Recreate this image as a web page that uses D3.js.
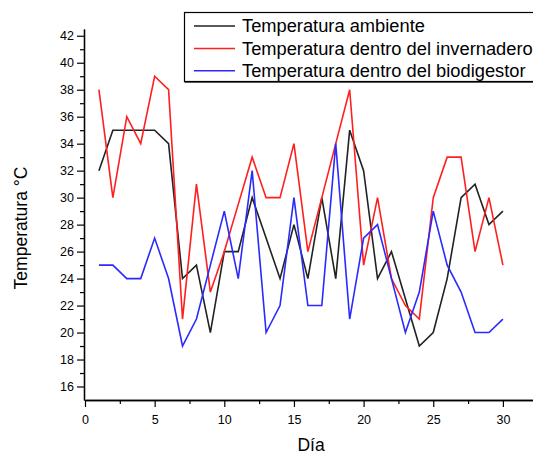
<!DOCTYPE html>
<html>
<head>
<meta charset="utf-8">
<script src="https://cdn.jsdelivr.net/npm/d3@7"></script>
<style>
  html, body { margin: 0; padding: 0; background: #fff; }
  svg { display: block; font-family: "Liberation Sans", Arial, sans-serif; }
</style>
</head>
<body>
<svg id="chart" width="533" height="454"></svg>
<script>
const dias = d3.range(1, 31);
const ambiente = [32,35,35,35,35,34,24,25,20,26,26,30,27,24,28,24,30,24,35,32,24,26,22.5,19,20,24,30,31,28,29];
const invernadero = [38,30,36,34,39,38,21,31,23,26,29.5,33,30,30,34,26,30,34,38,25,30,24,22,21,30,33,33,26,30,25];
const biodigestor = [25,25,24,24,27,24,19,21,25,29,24,32,20,22,30,22,22,34,21,27,28,24,20,23,29,25,23,20,20,21];
const seriesNames = ["Temperatura ambiente", "Temperatura dentro del invernadero", "Temperatura dentro del biodigestor"];
const seriesColors = ["#222222", "#ff1f1f", "#2a2aff"];
const yTicks = d3.range(16, 43, 2);
const xTicks = [0, 5, 10, 15, 20, 25, 30];

const svg = d3.select("#chart");
const x = d3.scaleLinear().domain([0, 32.5]).range([85, 85 + 32.5 * 13.93]);
const y = d3.scaleLinear().domain([15, 42.5]).range([400, 29]);

// axes
const yAxis = d3.axisLeft(y).tickValues(yTicks).tickSize(7).tickSizeOuter(0).tickPadding(3);
const yMinor = d3.axisLeft(y).tickValues(d3.range(17, 43, 2)).tickSize(4).tickFormat("").tickSizeOuter(0);
const xAxis = d3.axisBottom(x).tickValues(xTicks).tickSize(7).tickSizeOuter(0).tickPadding(8);
const xMinor = d3.axisBottom(x).tickValues(d3.range(2.5, 33, 5)).tickSize(4).tickFormat("").tickSizeOuter(0);

function styleAxis(g) {
  g.selectAll("path.domain").attr("stroke", "#000").attr("stroke-width", 1.3);
  g.selectAll(".tick line").attr("stroke", "#000").attr("stroke-width", 1.2);
  g.selectAll("text").attr("fill", "#000").style("font-size", "12.5px").style("font-family", "Liberation Sans, Arial, sans-serif");
}
svg.append("g").attr("transform", "translate(84,0)").call(yMinor).call(styleAxis);
svg.append("g").attr("transform", "translate(84,0)").call(yAxis).call(styleAxis);
svg.append("g").attr("transform", "translate(0,400)").call(xMinor).call(styleAxis);
svg.append("g").attr("transform", "translate(0,400)").call(xAxis).call(styleAxis);

// lines
const allSeries = [ambiente, invernadero, biodigestor];
const line = d3.line().x((d, i) => x(dias[i])).y(d => y(d));
allSeries.forEach((s, k) => {
  svg.append("path").datum(s)
    .attr("fill", "none")
    .attr("stroke", seriesColors[k])
    .attr("stroke-width", 1.6)
    .attr("stroke-linejoin", "miter")
    .attr("d", line);
});

// axis titles
svg.append("text")
  .attr("transform", "translate(27,228) rotate(-90)")
  .attr("text-anchor", "middle")
  .style("font-size", "17.5px")
  .text("Temperatura °C");
svg.append("text")
  .attr("x", 311).attr("y", 451)
  .attr("text-anchor", "middle")
  .style("font-size", "17.5px")
  .text("Día");

// legend
const lg = svg.append("g");
lg.append("rect").attr("x", 184.5).attr("y", 12.5).attr("width", 360).attr("height", 69)
  .attr("fill", "#fff").attr("stroke", "#000").attr("stroke-width", 1.2);
lg.append("line").attr("x1", 184.5).attr("x2", 545).attr("y1", 82.5).attr("y2", 82.5)
  .attr("stroke", "#555").attr("stroke-width", 1);
seriesNames.forEach((name, k) => {
  const yy = 26 + k * 22.4;
  lg.append("line").attr("x1", 194).attr("x2", 235).attr("y1", yy).attr("y2", yy)
    .attr("stroke", seriesColors[k]).attr("stroke-width", 1.5);
  lg.append("text").attr("x", 242).attr("y", yy + 6.3)
    .style("font-size", "18.3px").text(name);
});
</script>
</body>
</html>
